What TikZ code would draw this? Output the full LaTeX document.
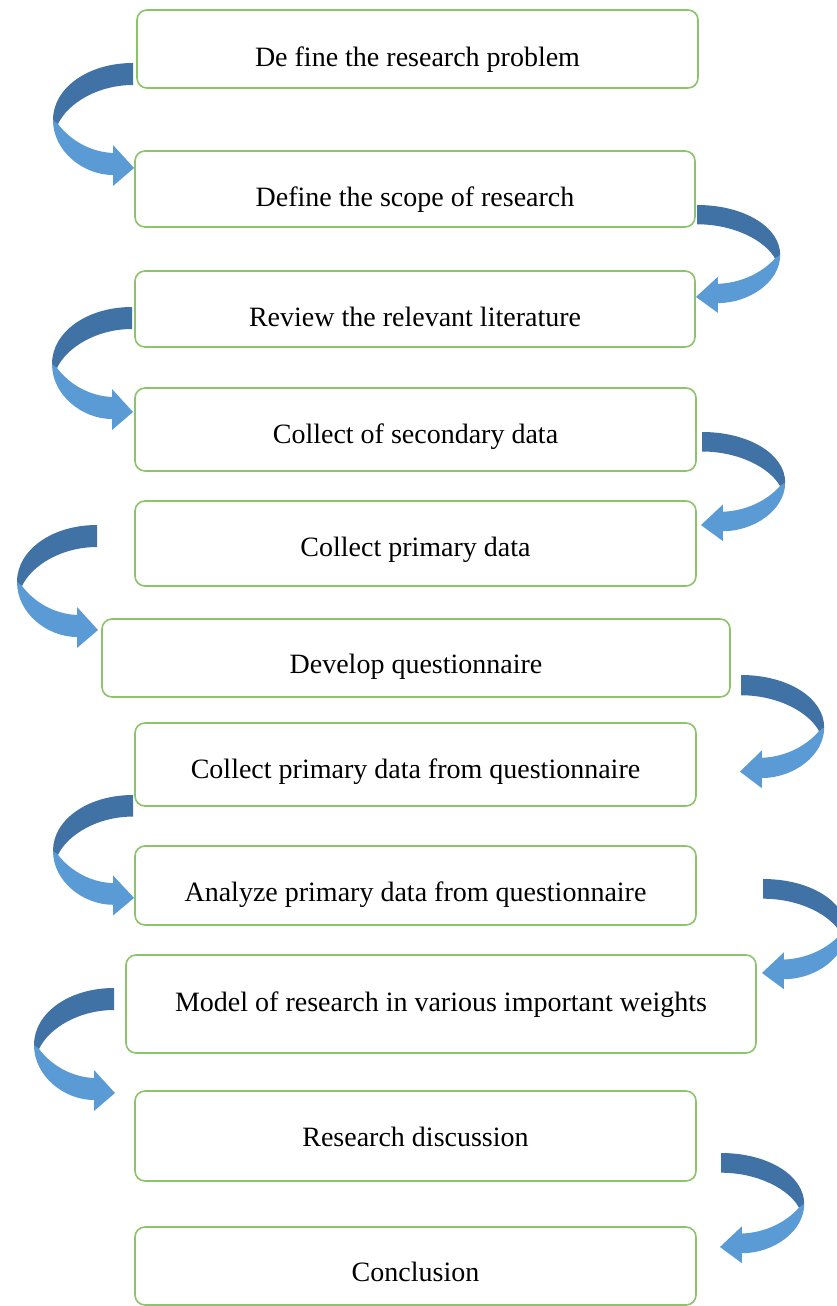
\documentclass[tikz,border=0pt]{standalone}
\usepackage{fontspec}
\setmainfont{Liberation Serif}
\definecolor{boxgreen}{RGB}{140,196,105}
\definecolor{arrowdark}{RGB}{65,114,166}
\definecolor{arrowlight}{RGB}{91,155,213}
\tikzset{
  stepbox/.style={draw=boxgreen, line width=1.6pt, rounded corners=10pt, fill=white,
    inner sep=0pt, text depth=0pt, align=center,
    font=\fontsize{28}{32}\selectfont},
  % U-turn block arrow: tail at the origin, bending out to the left and back
  uturn/.pic={
    % front (lighter) half with the head
    \fill[arrowlight] (-80,57) .. controls (-80,88) and (-50,112) .. (-20,112)
      -- (-20,123) -- (1,105) -- (-20,82) -- (-20,90)
      .. controls (-42,89) and (-62,78) .. (-75,61) -- cycle;
    % back (darker) half from the tail
    \fill[arrowdark] (0,0) .. controls (-45,0) and (-80,25) .. (-80,57)
      -- (-75,61) .. controls (-65,40) and (-35,22) .. (0,22) -- cycle;
  }
}
\newcommand{\stepnode}[7]{%
  % #1 name, #2-#3 left/right, #4-#5 top/bottom, #6 text height, #7 text
  \node[stepbox, minimum width={#3-#2}, minimum height={#5-#4}, text height=#6]
    (#1) at ({(#2+#3)/2},{(#4+#5)/2}) {#7};}
\begin{document}
\begin{tikzpicture}[x=1pt, y=-1pt]
\useasboundingbox (0,0) rectangle (837,1306);
\fill[white] (0,0) rectangle (837,1306);
\clip (0,0) rectangle (837,1306);

\stepnode{b1}{137}{698}{10}{88}{35.6}{De fine the research problem}
\stepnode{b2}{135}{695}{151}{227}{34.6}{Define the scope of research}
\stepnode{b3}{135}{695}{271}{347}{35.6}{Review the relevant literature}
\stepnode{b4}{135}{696}{388}{471}{27.6}{Collect of secondary data}
\stepnode{b5}{135}{696}{501}{586}{25.6}{Collect primary data}
\stepnode{b6}{102}{730}{619}{697}{30.6}{Develop questionnaire}
\stepnode{b7}{135}{696}{723}{806}{27.6}{Collect primary data from questionnaire}
\stepnode{b8}{135}{696}{846}{925}{31.6}{Analyze primary data from questionnaire}
\stepnode{b9}{126}{756}{955}{1053}{14.6}{Model of research in various important weights}
\stepnode{b10}{135}{696}{1091}{1181}{20.6}{Research discussion}
\stepnode{b11}{135}{696}{1227}{1305}{30.6}{Conclusion}

% tails of the turning arrows
\coordinate (a1) at (133,63);
\coordinate (a2) at (697,205);
\coordinate (a3) at (132,307);
\coordinate (a4) at (702,432);
\coordinate (a5) at (97,525);
\coordinate (a6) at (741,675);
\coordinate (a7) at (133,795);
\coordinate (a8) at (763,879);
\coordinate (a9) at (114,988);
\coordinate (a10) at (721,1153);

\pic at (a1) {uturn};
\pic[xscale=-1.04, yscale=0.876] at (a2) {uturn};
\pic at (a3) {uturn};
\pic[xscale=-1.04, yscale=0.886] at (a4) {uturn};
\pic at (a5) {uturn};
\pic[xscale=-1.04, yscale=0.92] at (a6) {uturn};
\pic[yscale=0.98] at (a7) {uturn};
\pic[xscale=-1.04, yscale=0.895] at (a8) {uturn};
\pic at (a9) {uturn};
\pic[xscale=-1.04, yscale=0.895] at (a10) {uturn};
\end{tikzpicture}
\end{document}
